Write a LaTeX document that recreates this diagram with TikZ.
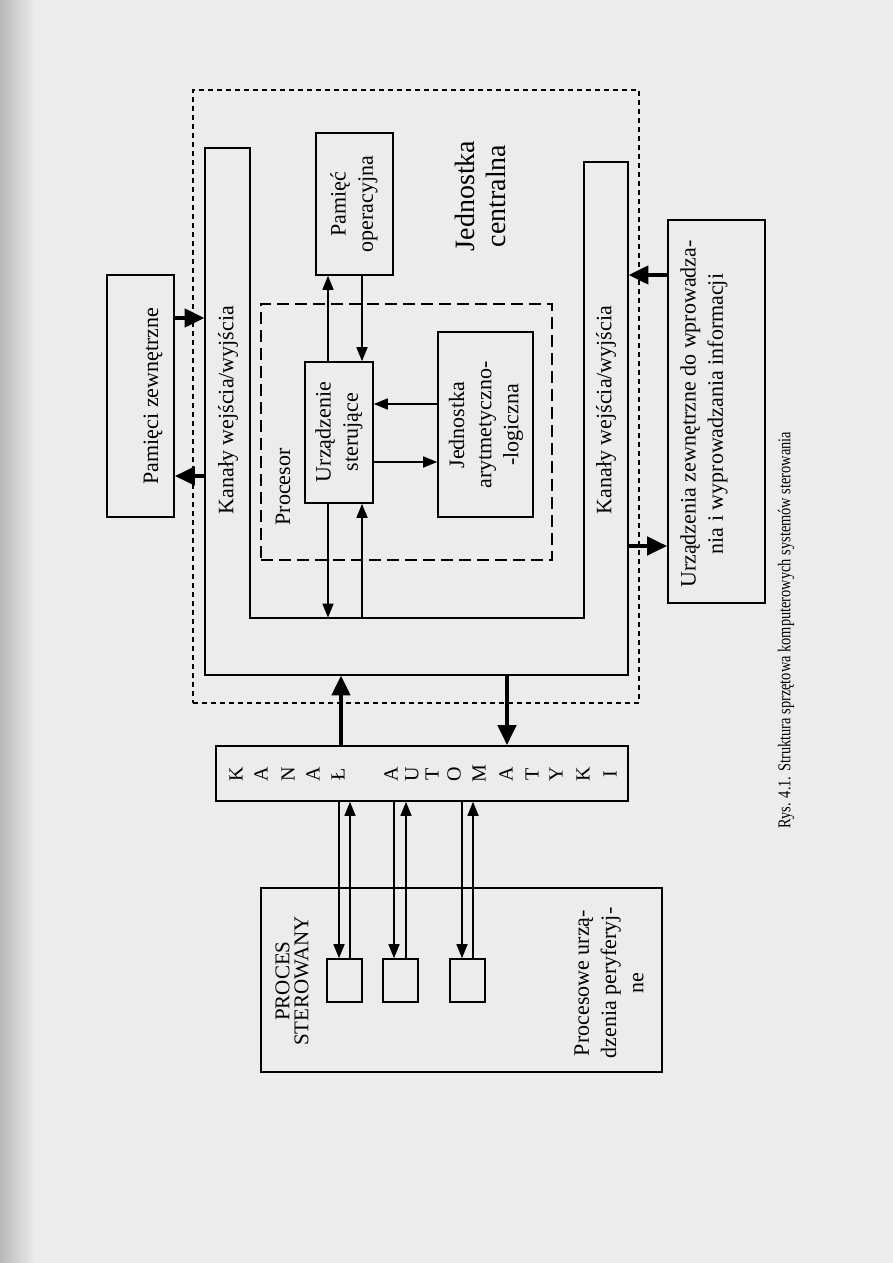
\documentclass[tikz,border=0pt]{standalone}
\usepackage{fontspec}
\setmainfont{Liberation Serif}
\newfontfamily\capfont[FakeStretch=0.8]{Liberation Serif}
\usetikzlibrary{arrows.meta,fit}
\definecolor{bgcol}{RGB}{236,236,236}
\definecolor{edgecol}{RGB}{185,185,185}
\begin{document}
\begin{tikzpicture}[x=0.5pt,y=-0.5pt,
  box/.style={draw, line width=0.8pt, inner sep=0pt},
  area/.style={inner sep=0pt},
  lbl/.style={rotate=90, align=center, inner sep=0pt, font=\fontsize{11}{13.6}\selectfont},
  letter/.style={rotate=90, inner sep=0pt, font=\fontsize{10}{12}\selectfont},
  thinarrow/.style={line width=0.8pt, -{Triangle[length=7pt,width=5.5pt]}},
  thickarrow/.style={line width=2.2pt, -{Triangle[length=10pt,width=9pt]}},
  dashout/.style={draw, line width=0.8pt, dash pattern=on 2.5pt off 2pt, inner sep=0pt},
  dashproc/.style={draw, line width=0.8pt, dash pattern=on 6pt off 3pt, inner sep=0pt},
]
% page
\fill[bgcol] (0,0) rectangle (893,1263);
\shade[left color=edgecol, right color=bgcol] (0,0) rectangle (35,1263);
\useasboundingbox (0,0) rectangle (893,1263);

% helper levels
\coordinate (y318) at (0,318);
\coordinate (y476) at (0,476);
\coordinate (y404) at (0,404);
\coordinate (y462) at (0,462);
\coordinate (y275) at (0,275);
\coordinate (y546) at (0,546);
\coordinate (x328) at (328,0);
\coordinate (x362) at (362,0);
\coordinate (x341) at (341,0);
\coordinate (x507) at (507,0);

% central unit (dashed)
\node (jc) [dashout, fit={(193,90) (639,703)}] {};
\node[lbl, font=\fontsize{14}{15.5}\selectfont] (jct) at (480,196) {Jednostka\\centralna};

% processor (dashed)
\node (proc) [dashproc, fit={(261,304) (552,560)}] {};
\node[lbl] (proct) at (283,487) {Procesor};

% external memory
\node (pz) [box, fit={(107,275) (174,517)}] {};
\node[lbl] (pzt) at (153,396) {Pamięci zewnętrzne};

% operating memory
\node (po) [box, fit={(316,133) (393,275)}] {};
\node[lbl] (pot) at (354,204) {Pamięć\\operacyjna};

% control unit
\node (us) [box, fit={(305,362) (373,503)}] {};
\node[lbl] (ust) at (339,432) {Urządzenie\\sterujące};

% ALU
\node (jal) [box, fit={(438,332) (533,517)}] {};
\node[lbl] (jalt) at (486,425) {Jednostka\\arytmetyczno-\\-logiczna};

% I/O channels (U shape)
\coordinate (u1) at (205,148);
\coordinate (u2) at (205,675);
\coordinate (u3) at (628,675);
\coordinate (u4) at (628,162);
\coordinate (u5) at (584,162);
\coordinate (u6) at (584,618);
\coordinate (u7) at (250,618);
\coordinate (u8) at (250,148);
\draw[line width=0.8pt] (u1) -- (u2) -- (u3) -- (u4) -- (u5) -- (u6) -- (u7) -- (u8) -- cycle;
\node (kwl) [area, fit={(205,148) (250,675)}] {};
\node (kwr) [area, fit={(584,162) (628,675)}] {};
\node (bar) [area, fit={(250,618) (584,675)}] {};
\node[lbl] (kwlt) at (228,410) {Kanały wejścia/wyjścia};
\node[lbl] (kwrt) at (606,410) {Kanały wejścia/wyjścia};

% external I/O devices
\node (uz) [box, fit={(668,220) (765,603)}] {};
\node[lbl] (uzt) at (704,414) {Urządzenia zewnętrzne do wprowadza-\\nia i wyprowadzania informacji};

% automation channel
\node (ka) [box, fit={(216,746) (628,801)}] {};
\foreach \px/\ch [count=\i] in {236/K,261/A,288/N,313/A,338/Ł,391/A,412/U,432/T,454/O,479/M,506/A,532/T,556/Y,583/K,610/I}
  \node[letter] (kal\i) at (\px,774) {\ch};

% controlled process
\node (ps) [box, fit={(261,888) (662,1072)}] {};
\node[lbl, font=\fontsize{10.5}{9.5}\selectfont] (pst) at (292,981) {PROCES\\STEROWANY};
\node[lbl] (ppt) at (609,983) {Procesowe urzą-\\dzenia peryferyj-\\ne};
\node (sq1) [box, fit={(327,959) (362,1002)}] {};
\node (sq2) [box, fit={(383,959) (418,1002)}] {};
\node (sq3) [box, fit={(450,959) (485,1002)}] {};
\coordinate (d1) at (339,0); \coordinate (u1a) at (350,0);
\coordinate (d2) at (394,0); \coordinate (u2a) at (406,0);
\coordinate (d3) at (462,0); \coordinate (u3a) at (473,0);

% caption
\node[lbl, font=\capfont\fontsize{9}{11}\selectfont] (cap) at (786,630) {Rys. 4.1. Struktura sprzętowa komputerowych systemów sterowania};

% connectors
\draw[thickarrow] (pz.east |- y318) -- (kwl.west |- y318);
\draw[thickarrow] (kwl.west |- y476) -- (pz.east |- y476);
\draw[thinarrow] (us.north -| x328) -- (po.south -| x328);
\draw[thinarrow] (po.south -| x362) -- (us.north -| x362);
\draw[thinarrow] (jal.west |- y404) -- (us.east |- y404);
\draw[thinarrow] (us.east |- y462) -- (jal.west |- y462);
\draw[thinarrow] (us.south -| x328) -- (bar.north -| x328);
\draw[thinarrow] (bar.north -| x362) -- (us.south -| x362);
\draw[thickarrow] (ka.north -| x341) -- (bar.south -| x341);
\draw[thickarrow] (bar.south -| x507) -- (ka.north -| x507);
\draw[thickarrow] (uz.west |- y275) -- (kwr.east |- y275);
\draw[thickarrow] (kwr.east |- y546) -- (uz.west |- y546);
\draw[thinarrow] (ka.south -| d1) -- (sq1.north -| d1);
\draw[thinarrow] (sq1.north -| u1a) -- (ka.south -| u1a);
\draw[thinarrow] (ka.south -| d2) -- (sq2.north -| d2);
\draw[thinarrow] (sq2.north -| u2a) -- (ka.south -| u2a);
\draw[thinarrow] (ka.south -| d3) -- (sq3.north -| d3);
\draw[thinarrow] (sq3.north -| u3a) -- (ka.south -| u3a);
\end{tikzpicture}
\end{document}
